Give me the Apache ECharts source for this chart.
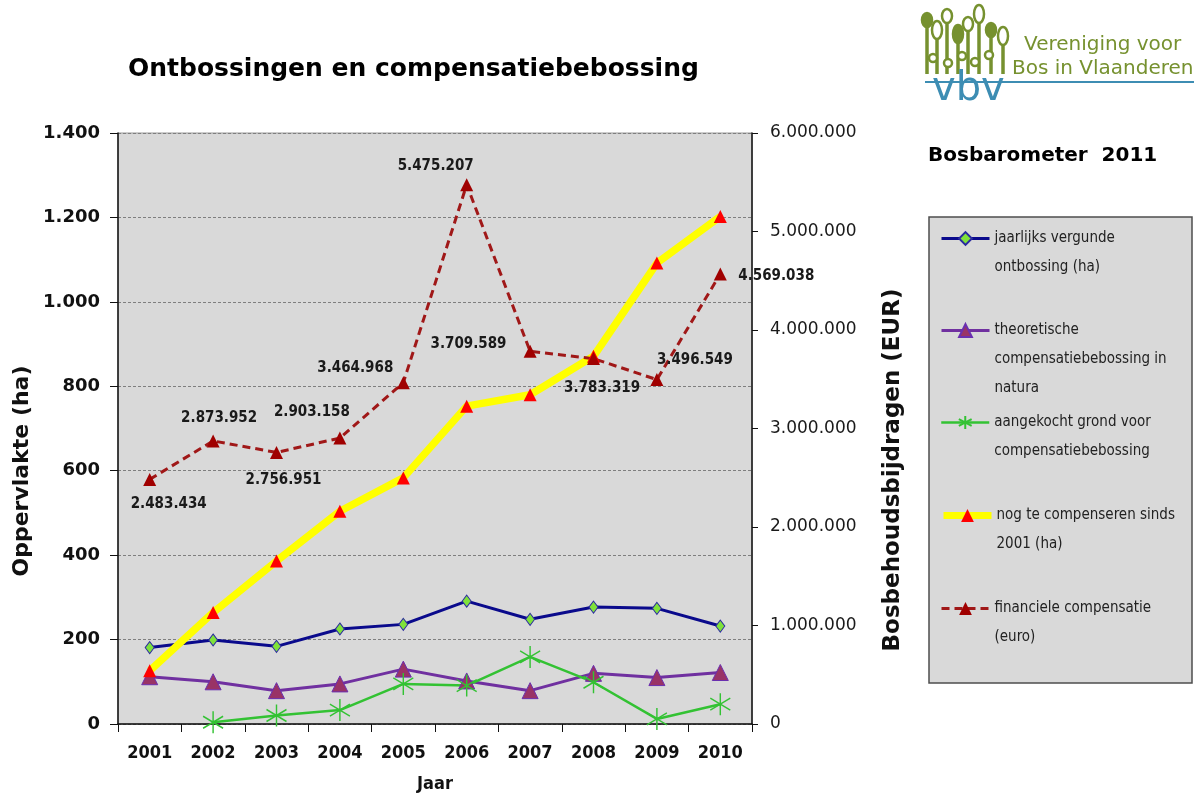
<!DOCTYPE html>
<html>
<head>
<meta charset="utf-8">
<title>Ontbossingen en compensatiebebossing</title>
<script src="https://cdn.jsdelivr.net/npm/echarts@6/dist/echarts.min.js"></script>
<style>
  html, body { margin: 0; padding: 0; background: #fff; }
  #chart { width: 1197px; height: 798px; }
</style>
</head>
<body>
<div id="chart"></div>
<script>
// jaren
const years = ['2001', '2002', '2003', '2004', '2005', '2006', '2007', '2008', '2009', '2010']

// oppervlakte (ha), linker as
const ontbossing = [181, 199, 184, 225, 236, 291, 248, 277, 274, 232]
const theoretisch = [112, 100, 79, 95, 130, 102, 79, 120, 110, 122]
const aangekocht = [null, 4, 20, 33, 95, 91, 159, 99, 12, 47]
const nogTeCompenseren = [126, 264, 386, 504, 583, 753, 780, 871, 1092, 1202]

// bosbehoudsbijdragen (EUR), rechter as
const financieel = [2483434, 2873952, 2756951, 2903158, 3464968, 5475207, 3783319, 3709589, 3496549, 4569038]

const seriesNames = [
    'jaarlijks vergunde ontbossing (ha)',
    'theoretische compensatiebebossing in natura',
    'aangekocht grond voor compensatiebebossing',
    'nog te compenseren sinds 2001 (ha)',
    'financiele compensatie (euro)'
]
// legende-tekst zoals in het origineel afgebroken
const legendLines = [
    ['jaarlijks vergunde', 'ontbossing (ha)'],
    ['theoretische', 'compensatiebebossing in', 'natura'],
    ['aangekocht grond voor', 'compensatiebebossing'],
    ['nog te compenseren sinds', '2001 (ha)'],
    ['financiele compensatie', '(euro)']
]

// verschuiving van de labels t.o.v. het punt (handmatig verplaatst in Excel)
const finLabelShift = [[19, 25], [6, -23], [7, 28], [-28, -26], [-48, -15], [-31, -19], [72, 37], [-125, -14], [38, -19], [56, 2]]
const legendTops = [195, 258, 379, 472, 565]
const legendLineWidth = [3, 3, 2.5, 7, 3]

const COND = "'DejaVu Sans Condensed', 'Liberation Sans Narrow', 'DejaVu Sans', sans-serif"
const WIDE = "'DejaVu Sans', Verdana, sans-serif"

const dots = v => String(v).replace(/\B(?=(\d{3})+(?!\d))/g, '.')

const asterisk = 'path://M10,0L10,22M0,5L20,17M0,17L20,5'

const chart = echarts.init(document.getElementById('chart'))

// logo: stengels met blaadjes
const stems = [[927, 14, 74], [937, 24, 74], [947, 10, 74], [958, 28, 74], [968, 18, 74], [979, 8, 74], [991, 24, 74], [1003, 30, 74]]
const logo = []
stems.forEach(([x, top, bot], i) => {
    logo.push({
        type: 'line', shape: { x1: x, y1: top + 8, x2: x, y2: bot },
        style: { stroke: '#76912f', lineWidth: 3.5 }
    })
    logo.push({
        type: 'ellipse', shape: { cx: x, cy: top + 6, rx: 5, ry: i % 2 ? 9 : 7 },
        style: { fill: i % 3 === 0 ? '#76912f' : '#fff', stroke: '#76912f', lineWidth: 2.5 }
    })
})
;[[933, 58], [948, 63], [962, 56], [975, 62], [989, 55]].forEach(([x, y]) => {
    logo.push({
        type: 'circle', shape: { cx: x, cy: y, r: 4 },
        style: { fill: '#fff', stroke: '#76912f', lineWidth: 2.5 }
    })
})
logo.push(
    { type: 'line', shape: { x1: 925, y1: 82, x2: 1194, y2: 82 }, style: { stroke: '#3d8db3', lineWidth: 2 } },
    { type: 'text', x: 932, y: 110, style: { text: 'vbv', font: '40px ' + WIDE, fill: '#3d8db3', verticalAlign: 'bottom' } },
    { type: 'text', x: 1024, y: 35, style: { text: 'Vereniging voor', font: '20px ' + WIDE, fill: '#76912f' } },
    { type: 'text', x: 1012, y: 59, style: { text: 'Bos in Vlaanderen', font: '20px ' + WIDE, fill: '#76912f' } }
)

const options = {
    backgroundColor: '#ffffff',
    animation: false,
    title: [
        {
            text: 'Ontbossingen en compensatiebebossing',
            left: 128, top: 57, padding: 0,
            textStyle: { fontFamily: WIDE, fontWeight: 'bold', fontSize: 25, color: '#000' }
        },
        {
            text: 'Bosbarometer  2011',
            left: 928, top: 146, padding: 0,
            textStyle: { fontFamily: WIDE, fontWeight: 'bold', fontSize: 20, color: '#000' }
        }
    ],
    grid: {
        left: 118, right: 445, top: 133, bottom: 73,
        show: true, backgroundColor: '#d9d9d9',
        borderColor: '#9a9a9a', borderWidth: 1
    },
    legend: seriesNames.map((name, i) => ({
        data: [name],
        left: 940, top: legendTops[i], padding: 0,
        itemWidth: 48, itemHeight: 16, itemGap: 0,
        selectedMode: false,
        lineStyle: { width: legendLineWidth[i] },
        formatter: () => Array(legendLines[i].length - 1).fill('').concat(legendLines[i]).join('\n'),
        textStyle: { fontFamily: COND, fontSize: 15, color: '#222', lineHeight: 29 }
    })),
    xAxis: {
        type: 'category',
        data: years,
        boundaryGap: true,
        name: 'Jaar',
        nameLocation: 'middle',
        nameGap: 51,
        nameTextStyle: { fontFamily: COND, fontWeight: 'bold', fontSize: 18, color: '#111' },
        axisLine: { lineStyle: { color: '#111', width: 1.5 } },
        axisTick: { show: true, length: 8, lineStyle: { color: '#111' } },
        axisLabel: { margin: 20, fontFamily: COND, fontWeight: 'bold', fontSize: 18, color: '#111' },
        splitLine: { show: false }
    },
    yAxis: [
        {
            type: 'value',
            min: 0, max: 1400, interval: 200,
            axisLine: { show: true, lineStyle: { color: '#111', width: 1.5 } },
            axisTick: { show: true, length: 8, lineStyle: { color: '#111' } },
            axisLabel: {
                margin: 18, fontFamily: WIDE, fontWeight: 'bold', fontSize: 18, color: '#111',
                formatter: v => dots(v)
            },
            splitLine: { show: true, lineStyle: { color: '#7f7f7f', type: [3, 2], width: 1 } }
        },
        {
            type: 'value',
            min: 0, max: 6000000, interval: 1000000,
            axisLine: { show: true, lineStyle: { color: '#111', width: 1.5 } },
            axisTick: { show: true, length: 6, lineStyle: { color: '#111' } },
            axisLabel: {
                margin: 18, fontFamily: WIDE, fontSize: 17, color: '#1a1a1a',
                formatter: v => dots(v)
            },
            splitLine: { show: false }
        }
    ],
    graphic: [
        {
            type: 'rect', z: -1,
            shape: { x: 929, y: 217, width: 263, height: 466 },
            style: { fill: '#d9d9d9', stroke: '#4d4d4d', lineWidth: 1.5 }
        },
        {
            type: 'text', x: 22, y: 471, rotation: Math.PI / 2,
            style: {
                text: 'Oppervlakte (ha)', font: 'bold 22px ' + WIDE, fill: '#111',
                align: 'center', verticalAlign: 'middle'
            }
        },
        {
            type: 'text', x: 893, y: 470, rotation: Math.PI / 2,
            style: {
                text: 'Bosbehoudsbijdragen (EUR)', font: 'bold 23px ' + WIDE, fill: '#111',
                align: 'center', verticalAlign: 'middle'
            }
        },
        { type: 'group', children: logo }
    ],
    series: [
        {
            name: seriesNames[0],
            type: 'line',
            data: ontbossing,
            symbol: 'diamond',
            symbolSize: [9, 12],
            lineStyle: { color: '#0a0a8c', width: 3 },
            itemStyle: { color: '#7fe23a', borderColor: '#2a2aa0', borderWidth: 1 }
        },
        {
            name: seriesNames[1],
            type: 'line',
            data: theoretisch,
            symbol: 'triangle',
            symbolSize: 16,
            lineStyle: { color: '#7030a0', width: 3 },
            itemStyle: { color: '#993366', borderColor: '#6a2fb0', borderWidth: 1 }
        },
        {
            name: seriesNames[2],
            type: 'line',
            data: aangekocht,
            symbol: asterisk,
            symbolSize: [20, 22],
            lineStyle: { color: '#33c233', width: 2.5 },
            itemStyle: { color: '#33c233', borderColor: '#33c233', borderWidth: 1.5 }
        },
        {
            name: seriesNames[3],
            type: 'line',
            data: nogTeCompenseren,
            symbol: 'triangle',
            symbolSize: 13,
            lineStyle: { color: '#ffff00', width: 7.5 },
            itemStyle: { color: '#ff0000', borderWidth: 0 }
        },
        {
            name: seriesNames[4],
            type: 'line',
            yAxisIndex: 1,
            data: financieel.map((v, i) => ({
                value: v,
                label: { offset: finLabelShift[i] }
            })),
            symbol: 'triangle',
            symbolSize: 13,
            lineStyle: { color: '#a01818', width: 3, type: [8, 5] },
            itemStyle: { color: '#a00000', borderWidth: 0 },
            label: {
                show: true,
                position: 'inside',
                formatter: p => dots(p.value),
                fontFamily: COND, fontWeight: 'bold', fontSize: 15, color: '#1a1a1a'
            }
        }
    ]
}

chart.setOption(options)
</script>
</body>
</html>
